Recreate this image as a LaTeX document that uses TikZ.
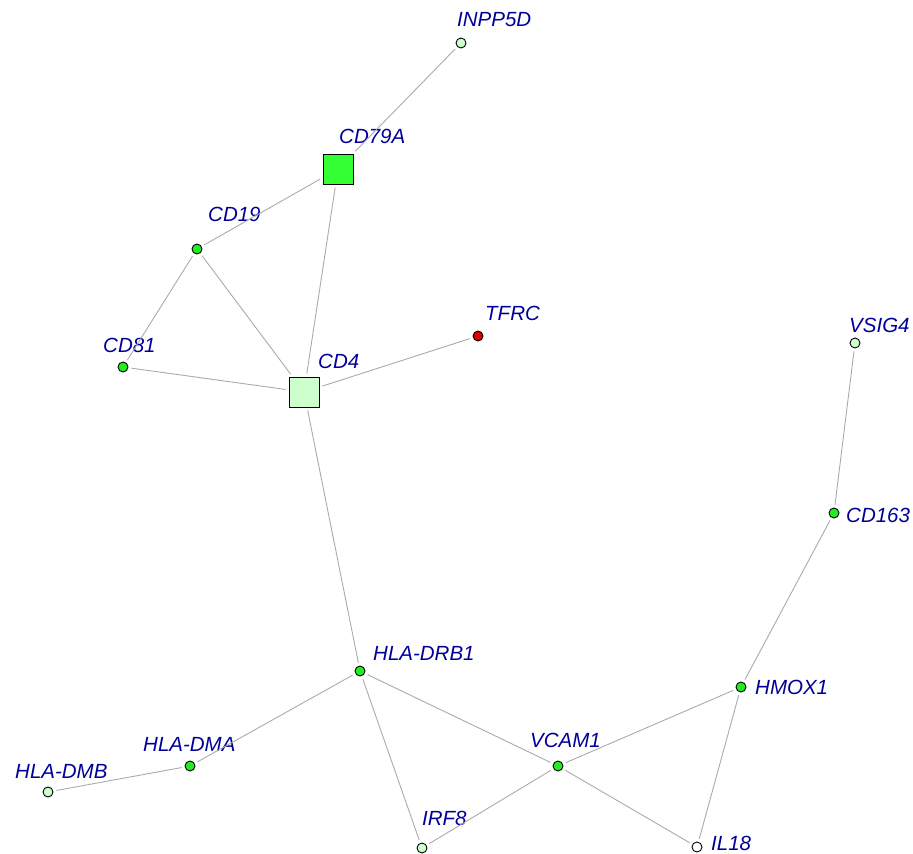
\documentclass[tikz,border=0pt]{standalone}
\usepackage{fontspec}
\setmainfont{Liberation Sans}
\definecolor{lbl}{HTML}{000099}
\definecolor{edgec}{HTML}{AAAAAA}
\definecolor{gmid}{HTML}{22EE22}
\definecolor{gsq}{HTML}{33FF33}
\definecolor{glight}{HTML}{CCFFCC}
\definecolor{nred}{HTML}{DD0000}
\tikzset{
  gene/.style={circle,draw=black,line width=0.9pt,minimum size=10pt,inner sep=0pt},
  sq/.style={rectangle,draw=black,line width=1pt,minimum size=30pt,inner sep=0pt},
  lab/.style={anchor=base west,inner sep=0pt,text=lbl,font=\fontsize{20.5}{22}\selectfont\itshape},
  edge/.style={draw=edgec,line width=0.9pt,shorten >=3pt,shorten <=3pt}
}
\begin{document}
\begin{tikzpicture}[x=1pt,y=-1pt]
\useasboundingbox (0,0) rectangle (913,854);
% nodes
\node[gene,fill=glight] (inpp5d) at (461,43) {};
\node[sq,fill=gsq] (cd79a) at (338,169) {};
\node[gene,fill=gmid] (cd19) at (197,249) {};
\node[gene,fill=gmid] (cd81) at (123,367) {};
\node[sq,fill=glight] (cd4) at (304,392) {};
\node[gene,fill=nred] (tfrc) at (478,336) {};
\node[gene,fill=glight] (vsig4) at (855,343) {};
\node[gene,fill=gmid] (cd163) at (834,513) {};
\node[gene,fill=gmid] (hmox1) at (741,687) {};
\node[gene,fill=gmid] (hladrb1) at (360,671) {};
\node[gene,fill=gmid] (hladma) at (190,766) {};
\node[gene,fill=glight] (hladmb) at (48,792) {};
\node[gene,fill=gmid] (vcam1) at (558,766) {};
\node[gene,fill=glight] (irf8) at (422,848) {};
\node[gene,fill=white] (il18) at (697,847) {};
% labels
\node[lab] (linpp5d) at (457,26) {INPP5D};
\node[lab] (lcd79a) at (339,143) {CD79A};
\node[lab] (lcd19) at (208,221) {CD19};
\node[lab] (lcd81) at (103,352) {CD81};
\node[lab] (lcd4) at (318,368) {CD4};
\node[lab] (ltfrc) at (485,320) {TFRC};
\node[lab] (lvsig4) at (849,332) {VSIG4};
\node[lab] (lcd163) at (846,522) {CD163};
\node[lab] (lhmox1) at (755,694) {HMOX1};
\node[lab] (lhladrb1) at (373,660) {HLA-DRB1};
\node[lab] (lhladma) at (143,751) {HLA-DMA};
\node[lab] (lhladmb) at (15,778) {HLA-DMB};
\node[lab] (lvcam1) at (530,747) {VCAM1};
\node[lab] (lirf8) at (422,825) {IRF8};
\node[lab] (lil18) at (711,850) {IL18};
% edges
\draw[edge] (inpp5d) -- (cd79a);
\draw[edge] (cd79a) -- (cd19);
\draw[edge] (cd79a) -- (cd4);
\draw[edge] (cd19) -- (cd4);
\draw[edge] (cd19) -- (cd81);
\draw[edge] (cd81) -- (cd4);
\draw[edge] (cd4) -- (tfrc);
\draw[edge] (cd4) -- (hladrb1);
\draw[edge] (hladrb1) -- (hladma);
\draw[edge] (hladma) -- (hladmb);
\draw[edge] (hladrb1) -- (irf8);
\draw[edge] (hladrb1) -- (vcam1);
\draw[edge] (vcam1) -- (irf8);
\draw[edge] (vcam1) -- (il18);
\draw[edge] (vcam1) -- (hmox1);
\draw[edge] (hmox1) -- (il18);
\draw[edge] (hmox1) -- (cd163);
\draw[edge] (cd163) -- (vsig4);
\end{tikzpicture}
\end{document}
